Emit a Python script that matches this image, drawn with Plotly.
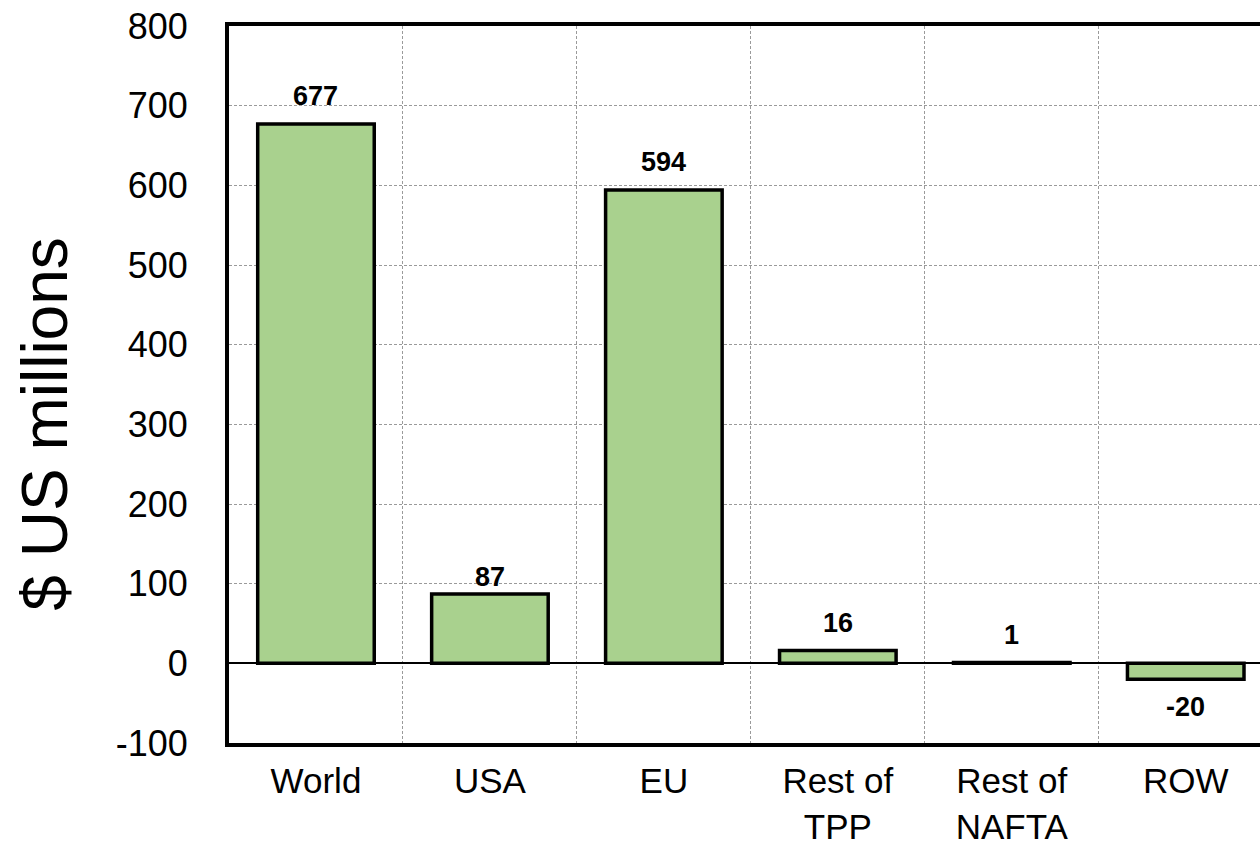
import plotly.graph_objects as go

categories = ["World", "USA", "EU", "Rest of<br>TPP", "Rest of<br>NAFTA", "ROW"]
values = [677, 87, 594, 16, 1, -20]
y_ticks = [-100, 0, 100, 200, 300, 400, 500, 600, 700, 800]
y_tick_labels = [str(v) for v in y_ticks]

FONT = "Arial, 'Liberation Sans', sans-serif"
BAR_COLOR = "#a9d18e"

# pixel gap between each bar end and its value label (style only)
label_gaps = [11, 0, 11, 11, 11, 11]

fig = go.Figure()
fig.add_trace(go.Bar(
    x=categories,
    y=values,
    marker=dict(color=BAR_COLOR, line=dict(color="black", width=3.5)),
    width=0.67,
    hoverinfo="x+y",
))

for c, v, g in zip(categories, values, label_gaps):
    fig.add_annotation(
        x=c, y=v, text=f"<b>{v}</b>", showarrow=False,
        yanchor="bottom" if v >= 0 else "top",
        yshift=g if v >= 0 else -g,
        font=dict(family=FONT, size=27, color="black"),
    )

fig.add_annotation(
    xref="paper", yref="paper", x=0, y=0.444, xshift=-184,
    text="$ US millions", textangle=-90, showarrow=False,
    xanchor="center", yanchor="middle",
    font=dict(family=FONT, size=64, color="black"),
)

fig.update_layout(
    width=1260, height=845,
    margin=dict(l=229, r=0, t=26, b=102),
    paper_bgcolor="white", plot_bgcolor="white",
    showlegend=False,
    font=dict(family=FONT, color="black"),
)

fig.update_xaxes(
    type="category",
    range=[-0.5, 5.427],
    tickson="boundaries",
    automargin=False,
    showgrid=True, gridcolor="#9a9a9a", gridwidth=1, griddash="3px,2px",
    showline=True, linecolor="black", linewidth=4, mirror=True,
    ticks="", ticklabelstandoff=4,
    tickfont=dict(family=FONT, size=35, color="black"),
)
fig.update_yaxes(
    range=[-100, 800],
    tickvals=y_ticks, ticktext=y_tick_labels,
    automargin=False,
    showgrid=True, gridcolor="#9a9a9a", gridwidth=1, griddash="3px,2px",
    zeroline=True, zerolinecolor="black", zerolinewidth=1.5,
    showline=True, linecolor="black", linewidth=4,
    ticks="", ticklabelstandoff=30,
    tickfont=dict(family=FONT, size=36, color="black"),
)

fig.write_html("out.html")
